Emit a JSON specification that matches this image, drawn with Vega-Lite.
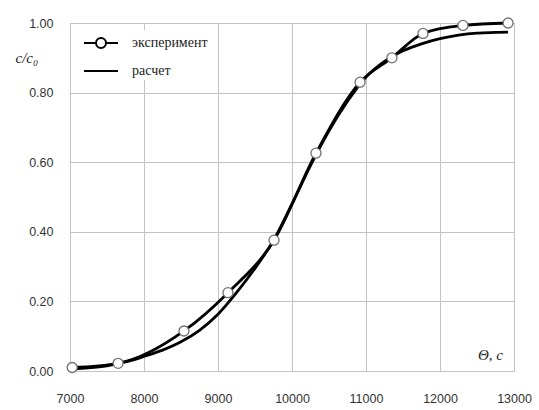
{
  "$schema": "https://vega.github.io/schema/vega-lite/v6.json",
  "autosize": {"type": "none"},
  "width": 444,
  "height": 348,
  "padding": {"left": 70, "top": 23, "right": 25, "bottom": 39},
  "background": "white",
  "config": {
    "view": {"stroke": "#bdbdbd", "strokeWidth": 1},
    "axis": {"gridColor": "#c4c4c4", "gridWidth": 1, "domain": false, "ticks": false, "labelFlush": false,
             "labelFont": "Liberation Sans", "labelFontSize": 12.5, "labelColor": "#333333"}
  },
  "datasets": {
    "exp": [
      {"t": 7030, "c": 0.01, "s": "эксперимент"},
      {"t": 7650, "c": 0.022, "s": "эксперимент"},
      {"t": 8540, "c": 0.115, "s": "эксперимент"},
      {"t": 9135, "c": 0.225, "s": "эксперимент"},
      {"t": 9757, "c": 0.376, "s": "эксперимент"},
      {"t": 10324, "c": 0.626, "s": "эксперимент"},
      {"t": 10920, "c": 0.83, "s": "эксперимент"},
      {"t": 11350, "c": 0.90, "s": "эксперимент"},
      {"t": 11770, "c": 0.97, "s": "эксперимент"},
      {"t": 12310, "c": 0.993, "s": "эксперимент"},
      {"t": 12920, "c": 1.0, "s": "эксперимент"}
    ],
    "calc": [
      {"t": 7030, "c": 0.006, "s": "расчет"},
      {"t": 7250, "c": 0.009, "s": "расчет"},
      {"t": 7500, "c": 0.015, "s": "расчет"},
      {"t": 7750, "c": 0.026, "s": "расчет"},
      {"t": 8000, "c": 0.042, "s": "расчет"},
      {"t": 8250, "c": 0.06, "s": "расчет"},
      {"t": 8500, "c": 0.084, "s": "расчет"},
      {"t": 8750, "c": 0.117, "s": "расчет"},
      {"t": 9000, "c": 0.163, "s": "расчет"},
      {"t": 9250, "c": 0.225, "s": "расчет"},
      {"t": 9500, "c": 0.295, "s": "расчет"},
      {"t": 9750, "c": 0.375, "s": "расчет"},
      {"t": 10000, "c": 0.48, "s": "расчет"},
      {"t": 10250, "c": 0.59, "s": "расчет"},
      {"t": 10500, "c": 0.69, "s": "расчет"},
      {"t": 10750, "c": 0.775, "s": "расчет"},
      {"t": 11000, "c": 0.845, "s": "расчет"},
      {"t": 11250, "c": 0.89, "s": "расчет"},
      {"t": 11500, "c": 0.92, "s": "расчет"},
      {"t": 11750, "c": 0.94, "s": "расчет"},
      {"t": 12000, "c": 0.955, "s": "расчет"},
      {"t": 12250, "c": 0.965, "s": "расчет"},
      {"t": 12500, "c": 0.971, "s": "расчет"},
      {"t": 12750, "c": 0.973, "s": "расчет"},
      {"t": 12920, "c": 0.974, "s": "расчет"}
    ]
  },
  "encoding": {
    "x": {"field": "t", "type": "quantitative",
          "scale": {"domain": [7000, 13000], "nice": false},
          "axis": {"values": [7000, 8000, 9000, 10000, 11000, 12000, 13000], "labelPadding": 21,
                   "format": "d", "title": "Θ, c", "titleFont": "Liberation Serif", "titleFontSize": 15,
                   "titleFontWeight": "normal", "titleFontStyle": "italic", "titleColor": "#222222",
                   "titleX": 420, "titleY": -17, "titleAlign": "center", "titleBaseline": "middle"}},
    "y": {"field": "c", "type": "quantitative",
          "scale": {"domain": [0, 1], "nice": false},
          "axis": {"values": [0, 0.2, 0.4, 0.6, 0.8, 1.0], "format": ".2f", "labelPadding": 17,
                   "title": "c/c₀", "titleFont": "Liberation Serif", "titleFontSize": 15,
                   "titleFontWeight": "normal", "titleFontStyle": "italic", "titleColor": "#222222",
                   "titleAngle": 0, "titleX": -55, "titleY": 34, "titleAlign": "left", "titleBaseline": "middle"}}
  },
  "layer": [
    {"data": {"name": "calc"},
     "mark": {"type": "line", "strokeWidth": 2.8, "interpolate": "monotone"},
     "encoding": {"color": {"field": "s", "type": "nominal",
              "scale": {"domain": ["эксперимент", "расчет"], "range": ["black", "black"]},
              "legend": {"orient": "none", "legendX": 3, "legendY": 7, "title": null,
                         "padding": 2, "fillColor": "white", "rowPadding": 8, "symbolSize": 400,
                         "symbolStrokeWidth": 2, "symbolFillColor": "white", "symbolStrokeColor": "black",
                         "labelFont": "Liberation Serif", "labelFontSize": 14, "labelColor": "#222222",
                         "labelOffset": 35, "labelExpr": "datum.label + '\u00a0\u00a0\u00a0\u00a0\u00a0\u00a0'",
                         "encode": {"symbols": {"update": {
                           "shape": {"signal": "datum.value === 'эксперимент' ? 'M-0.2,0L1,0M2,0L3.2,0M2,0A0.5,0.5,0,1,1,1,0A0.5,0.5,0,1,1,2,0' : 'M-0.2,0L3.2,0'"},
                           "fill": {"value": "white"}, "stroke": {"value": "black"}, "strokeWidth": {"value": 2}}}}}}}},
    {"data": {"name": "exp"},
     "mark": {"type": "line", "strokeWidth": 2.8, "interpolate": "monotone", "color": "black"}},
    {"data": {"name": "exp"},
     "mark": {"type": "point", "shape": "circle", "filled": false, "fill": "white", "fillOpacity": 1, "opacity": 1, "size": 100, "strokeWidth": 1.3, "stroke": "#707070"}}
  ]
}
